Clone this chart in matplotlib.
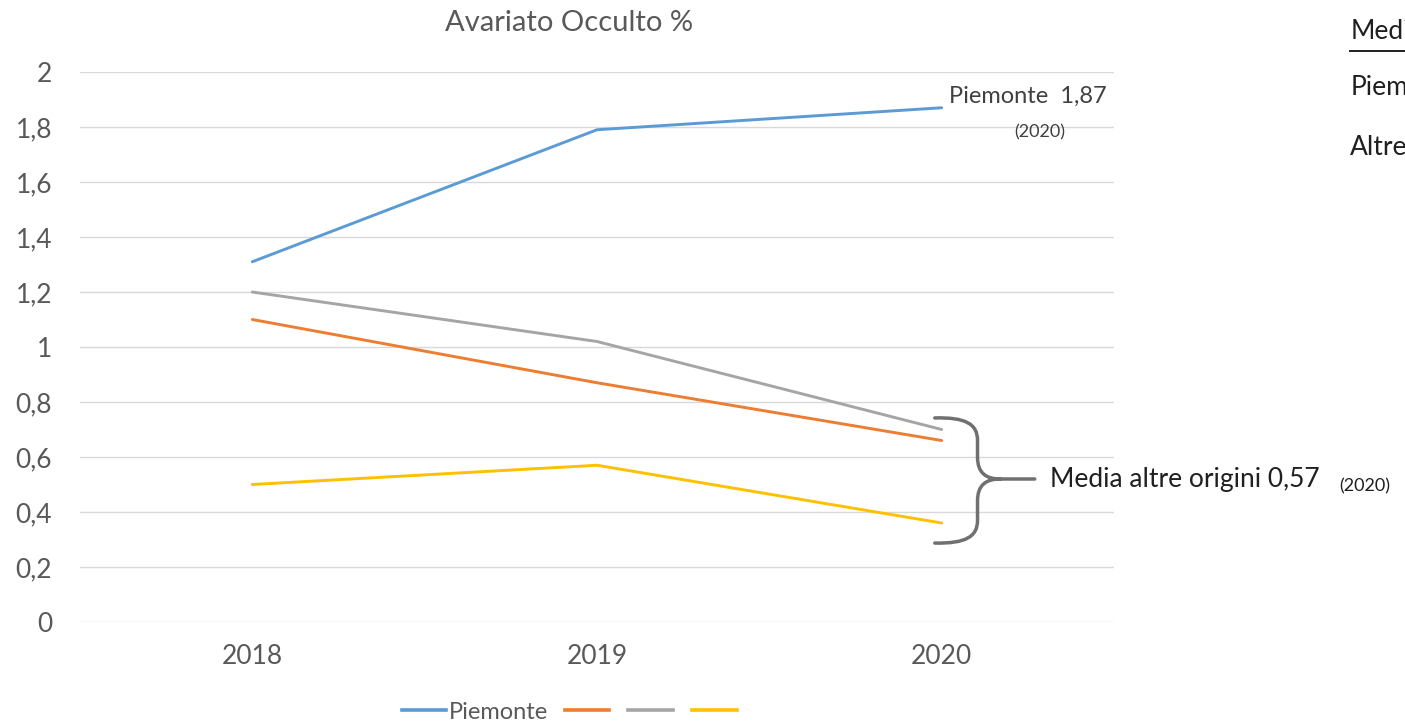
import matplotlib.pyplot as plt
from matplotlib.path import Path
from matplotlib.patches import PathPatch
from matplotlib.lines import Line2D

plt.rcParams['font.family'] = ['Lato', 'DejaVu Sans']

years = ['2018', '2019', '2020']
piemonte = [1.31, 1.79, 1.87]
origine_2 = [1.10, 0.87, 0.66]
origine_3 = [1.20, 1.02, 0.70]
origine_4 = [0.50, 0.57, 0.36]
y_ticks = [0, 0.2, 0.4, 0.6, 0.8, 1, 1.2, 1.4, 1.6, 1.8, 2]
y_labels = ['0', '0,2', '0,4', '0,6', '0,8', '1', '1,2', '1,4', '1,6', '1,8', '2']

colors = ['#5B9BD5', '#ED7D31', '#A5A5A5', '#FFC000']
grey_text = '#595959'

fig = plt.figure(figsize=(14.05, 7.23), dpi=100)
ax = fig.add_axes([0.0569, 0.1397, 0.736, 0.7607])

x = range(len(years))
series = [piemonte, origine_2, origine_3, origine_4]
for vals, c in zip(series, colors):
    ax.plot(x, vals, color=c, lw=2.1, solid_capstyle='round')

ax.set_xlim(-0.5, 2.5)
ax.set_ylim(0, 2)
ax.set_yticks(y_ticks)
ax.set_yticklabels(y_labels)
ax.set_xticks(list(x))
ax.set_xticklabels(years)
ax.grid(axis='y', color='#d9d9d9', lw=1)
ax.set_axisbelow(True)
for s in ax.spines.values():
    s.set_visible(False)
ax.tick_params(length=0, labelsize=19, colors=grey_text)
ax.tick_params(axis='y', pad=20)
ax.tick_params(axis='x', pad=16)

fig.text(0.405, 0.968, 'Avariato Occulto %', ha='center', va='center',
         fontsize=21, color=grey_text)

# etichetta Piemonte
ax.text(2.02, 1.91, 'Piemonte  1,87', fontsize=17, color='#404040',
        ha='left', va='center')
ax.text(2.284, 1.78, '(2020)', fontsize=13, color='#404040',
        ha='center', va='center')

# graffa
M, L, C = Path.MOVETO, Path.LINETO, Path.CURVE4
verts = [(1.98, 0.742), (2.07, 0.745), (2.104, 0.72), (2.104, 0.66),
         (2.104, 0.60),
         (2.104, 0.54), (2.13, 0.52), (2.17, 0.52),
         (2.27, 0.52),
         (2.17, 0.52),
         (2.13, 0.52), (2.104, 0.50), (2.104, 0.44),
         (2.104, 0.37),
         (2.104, 0.31), (2.07, 0.285), (1.98, 0.287)]
codes = [M, C, C, C,
         L,
         C, C, C,
         L,
         M,
         C, C, C,
         L,
         C, C, C]
brace = PathPatch(Path(verts, codes), fill=False, edgecolor='#707070', lw=2.5,
                  clip_on=False, capstyle='round')
ax.add_patch(brace)

ax.text(2.313, 0.52, 'Media altre origini 0,57', fontsize=19, color='#202020',
        ha='left', va='center', clip_on=False)
fig.text(0.953, 0.327, '(2020)', fontsize=13, color='#202020',
         ha='left', va='center')

# testo a destra (tagliato dal bordo come nell'originale)
fig.text(0.961, 0.957, 'Media', fontsize=19, color='#202020',
         ha='left', va='center')
fig.add_artist(Line2D([0.961, 1.0], [0.93, 0.93], color='#202020', lw=1.4))
fig.text(0.961, 0.879, 'Piemonte', fontsize=19, color='#202020',
         ha='left', va='center')
fig.text(0.961, 0.796, 'Altre', fontsize=19, color='#202020',
         ha='left', va='center')

handles = [Line2D([], [], color=c, lw=2.6) for c in colors]
leg = fig.legend(handles, ['Piemonte', '', '', ''], loc='center',
                 bbox_to_anchor=(0.406, 0.015), ncol=4, frameon=False,
                 fontsize=17, handlelength=1.9, handletextpad=0.1,
                 columnspacing=0.7)
for t in leg.get_texts():
    t.set_color(grey_text)

fig.savefig('out.png', dpi=100, facecolor='white')
